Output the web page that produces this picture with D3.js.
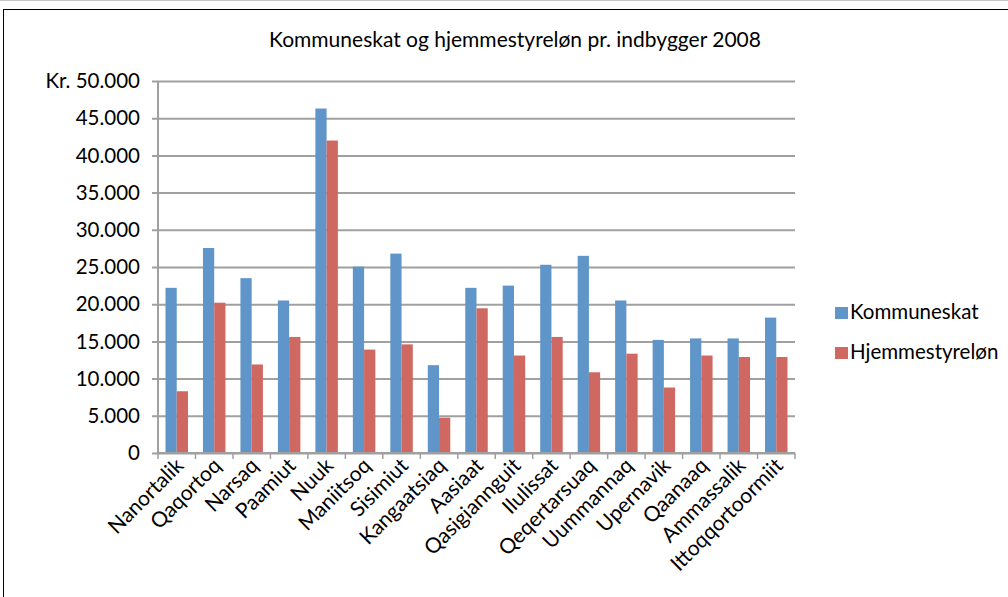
<!DOCTYPE html>
<html>
<head>
<meta charset="utf-8">
<script src="https://cdn.jsdelivr.net/npm/d3@7"></script>
<style>
  body { margin: 0; background: #fff; }
  text { font-family: Lato, "Open Sans", sans-serif; fill: #000; }
</style>
</head>
<body>
<div id="chart"></div>
<script>
var svgWidth = 1008;
var svgHeight = 597;

// data
var towns = ["Nanortalik", "Qaqortoq", "Narsaq", "Paamiut", "Nuuk", "Maniitsoq", "Sisimiut",
  "Kangaatsiaq", "Aasiaat", "Qasigiannguit", "Ilulissat", "Qeqertarsuaq", "Uummannaq",
  "Upernavik", "Qaanaaq", "Ammassalik", "Ittoqqortoormiit"];
var kommuneskat = [22200, 27550, 23500, 20500, 46300, 25050, 26800, 11800, 22200, 22500,
  25300, 26500, 20500, 15200, 15400, 15400, 18200];
var hjemmestyreloen = [8300, 20200, 11900, 15600, 42000, 13900, 14600, 4750, 19450, 13100,
  15600, 10850, 13350, 8800, 13100, 12900, 12900];
var seriesNames = ["Kommuneskat", "Hjemmestyreløn"];
var colors = ["#5f95c8", "#d06862"];
var yTicks = [0, 5000, 10000, 15000, 20000, 25000, 30000, 35000, 40000, 45000, 50000];

var margin = { top: 81, left: 158, right: 213, bottom: 144 };
var width = svgWidth - margin.left - margin.right;
var height = svgHeight - margin.top - margin.bottom;

var svg = d3.select("#chart")
  .append("svg")
  .attr("width", svgWidth)
  .attr("height", svgHeight);

// outer frame
svg.append("line").attr("x1", 0).attr("x2", svgWidth).attr("y1", 0.5).attr("y2", 0.5)
  .attr("stroke", "#c8c8c8").attr("stroke-width", 1);
svg.append("rect")
  .attr("x", 3.5).attr("y", 9.5)
  .attr("width", svgWidth + 10).attr("height", svgHeight)
  .attr("fill", "none").attr("stroke", "#000").attr("stroke-width", 1);

svg.append("text")
  .attr("x", 515).attr("y", 47)
  .attr("text-anchor", "middle")
  .style("font-size", "21px")
  .text("Kommuneskat og hjemmestyreløn pr. indbygger 2008");

var chartGroup = svg.append("g")
  .attr("transform", `translate(${margin.left}, ${margin.top})`);

var x0 = d3.scaleBand().domain(towns).range([0, width]).paddingInner(0).paddingOuter(0);
var x1 = d3.scaleBand().domain([0, 1]).range([x0.bandwidth() * 0.2, x0.bandwidth() * 0.8]);
var y = d3.scaleLinear().domain([0, 50000]).range([height, 0]);

var fmt = function(v) {
  var s = d3.format(",")(v).replace(/,/g, ".");
  return v === 50000 ? "Kr. " + s : s;
};

// gridlines
chartGroup.append("g")
  .call(d3.axisLeft(y).tickValues(yTicks).tickSize(-width - 6).tickFormat(""))
  .attr("transform", "translate(-6,0)")
  .call(g => g.select(".domain").remove())
  .call(g => g.selectAll("line").attr("stroke", "#a0a0a0").attr("stroke-width", 2));

// y labels
chartGroup.append("g")
  .selectAll("text")
  .data(yTicks)
  .enter()
  .append("text")
  .attr("x", -18)
  .attr("y", d => y(d))
  .attr("dy", "0.35em")
  .attr("text-anchor", "end")
  .style("font-size", "20.5px")
  .text(fmt);

// bars
var groups = chartGroup.selectAll(".grp")
  .data(towns)
  .enter()
  .append("g")
  .attr("transform", d => `translate(${x0(d)},0)`);

groups.selectAll("rect")
  .data((d, i) => [kommuneskat[i], hjemmestyreloen[i]])
  .enter()
  .append("rect")
  .attr("x", (d, j) => x1(j))
  .attr("y", d => y(d))
  .attr("width", x1.bandwidth())
  .attr("height", d => height - y(d))
  .attr("fill", (d, j) => colors[j]);

// axes lines
chartGroup.append("line").attr("x1", 0).attr("x2", 0).attr("y1", 0).attr("y2", height)
  .attr("stroke", "#a0a0a0").attr("stroke-width", 2);
var bottom = chartGroup.append("g").attr("transform", `translate(0, ${height})`);
bottom.append("line").attr("x1", 0).attr("x2", width).attr("y1", 0).attr("y2", 0)
  .attr("stroke", "#a0a0a0").attr("stroke-width", 2);
bottom.selectAll(".tk")
  .data(towns.concat(["end"]))
  .enter()
  .append("line")
  .attr("x1", (d, i) => i * x0.step())
  .attr("x2", (d, i) => i * x0.step())
  .attr("y1", 0).attr("y2", 6)
  .attr("stroke", "#a0a0a0").attr("stroke-width", 1.5);

// x labels
bottom.selectAll(".lbl")
  .data(towns)
  .enter()
  .append("text")
  .attr("text-anchor", "end")
  .attr("transform", d => `translate(${x0(d) + x0.bandwidth() / 2 + 8}, 14) rotate(-45)`)
  .style("font-size", "21px")
  .text(d => d);

// legend
var legend = svg.append("g").attr("transform", "translate(835, 305)");
seriesNames.forEach(function(name, i) {
  legend.append("rect")
    .attr("x", 0).attr("y", i * 40 + 2)
    .attr("width", 13).attr("height", 12)
    .attr("fill", colors[i]);
  legend.append("text")
    .attr("x", 15).attr("y", i * 40 + 14)
    .style("font-size", "20.5px")
    .text(name);
});
</script>
</body>
</html>
